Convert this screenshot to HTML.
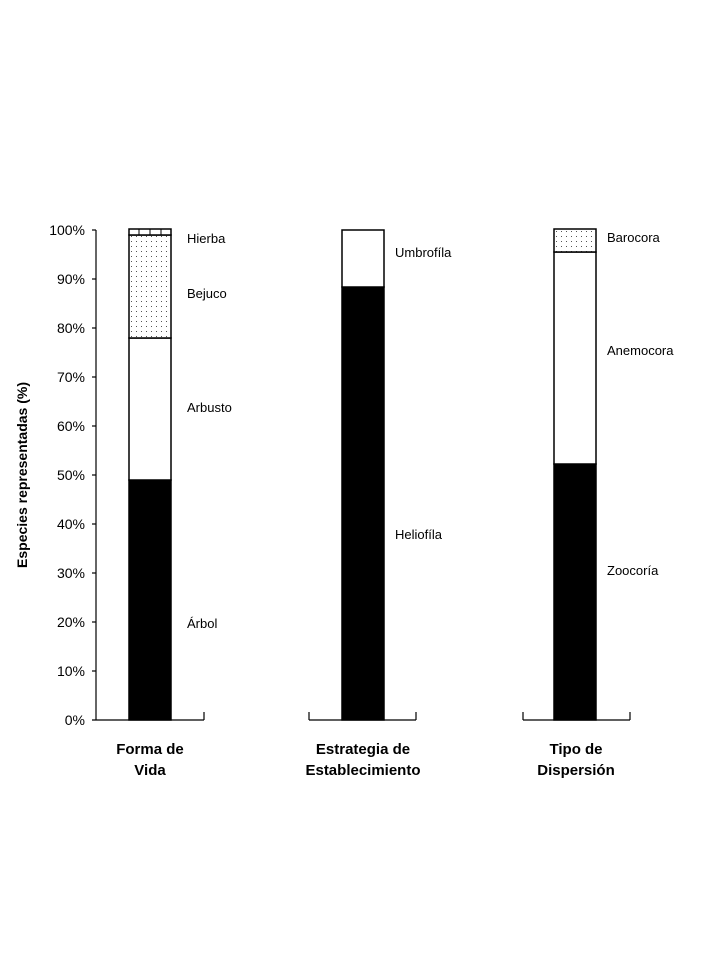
<!DOCTYPE html>
<html><head><style>body{margin:0;background:#fff}</style></head><body>
<svg width="720" height="960" xmlns="http://www.w3.org/2000/svg" font-family="Liberation Sans, sans-serif">
<defs>
<pattern id="dots" width="5" height="5" patternUnits="userSpaceOnUse"><rect width="5" height="5" fill="#fff"/><rect x="1" y="1" width="1" height="1" fill="#555"/></pattern>
</defs>
<g stroke="#000" stroke-width="1.2" fill="none">
<line x1="96" y1="230" x2="96" y2="720"/>
<line x1="92" y1="720" x2="204" y2="720"/>
<line x1="204" y1="720" x2="204" y2="712"/>
<line x1="309" y1="720" x2="416" y2="720"/><line x1="309" y1="720" x2="309" y2="712"/><line x1="416" y1="720" x2="416" y2="712"/>
<line x1="523" y1="720" x2="630" y2="720"/><line x1="523" y1="720" x2="523" y2="712"/><line x1="630" y1="720" x2="630" y2="712"/>
<line x1="92" y1="230" x2="96" y2="230"/><line x1="92" y1="279" x2="96" y2="279"/><line x1="92" y1="328" x2="96" y2="328"/><line x1="92" y1="377" x2="96" y2="377"/><line x1="92" y1="426" x2="96" y2="426"/><line x1="92" y1="475" x2="96" y2="475"/><line x1="92" y1="524" x2="96" y2="524"/><line x1="92" y1="573" x2="96" y2="573"/><line x1="92" y1="622" x2="96" y2="622"/><line x1="92" y1="671" x2="96" y2="671"/>
</g>
<g font-size="14" text-anchor="end" fill="#000">
<text x="85" y="235">100%</text><text x="85" y="284">90%</text><text x="85" y="333">80%</text><text x="85" y="382">70%</text><text x="85" y="431">60%</text><text x="85" y="480">50%</text><text x="85" y="529">40%</text><text x="85" y="578">30%</text><text x="85" y="627">20%</text><text x="85" y="676">10%</text><text x="85" y="725">0%</text>
</g>
<text transform="translate(27,475) rotate(-90)" font-size="14" font-weight="bold" text-anchor="middle">Especies representadas (%)</text>
<g stroke="#000" stroke-width="1.5">
<rect x="129" y="480" width="42" height="240" fill="#000"/>
<rect x="129" y="338" width="42" height="142" fill="#fff"/>
<rect x="129" y="235" width="42" height="103" fill="url(#dots)"/>
<rect x="129" y="229" width="42" height="6" fill="#fff"/>
<line x1="139" y1="229" x2="139" y2="235" stroke-width="1"/><line x1="150" y1="229" x2="150" y2="235" stroke-width="1"/><line x1="161" y1="229" x2="161" y2="235" stroke-width="1"/>
<rect x="342" y="287" width="42" height="433" fill="#000"/>
<rect x="342" y="230" width="42" height="57" fill="#fff"/>
<rect x="554" y="464" width="42" height="256" fill="#000"/>
<rect x="554" y="252" width="42" height="212" fill="#fff"/>
<rect x="554" y="229" width="42" height="23" fill="url(#dots)"/>
</g>
<g font-size="13">
<text x="187" y="243">Hierba</text><text x="187" y="298">Bejuco</text><text x="187" y="412">Arbusto</text><text x="187" y="628">Árbol</text>
<text x="395" y="257">Umbrofíla</text><text x="395" y="539">Heliofíla</text>
<text x="607" y="242">Barocora</text><text x="607" y="355">Anemocora</text><text x="607" y="575">Zoocoría</text>
</g>
<g font-size="15" font-weight="bold" text-anchor="middle">
<text x="150" y="754">Forma de</text><text x="150" y="775">Vida</text>
<text x="363" y="754">Estrategia de</text><text x="363" y="775">Establecimiento</text>
<text x="576" y="754">Tipo de</text><text x="576" y="775">Dispersión</text>
</g>
</svg>
</body></html>
